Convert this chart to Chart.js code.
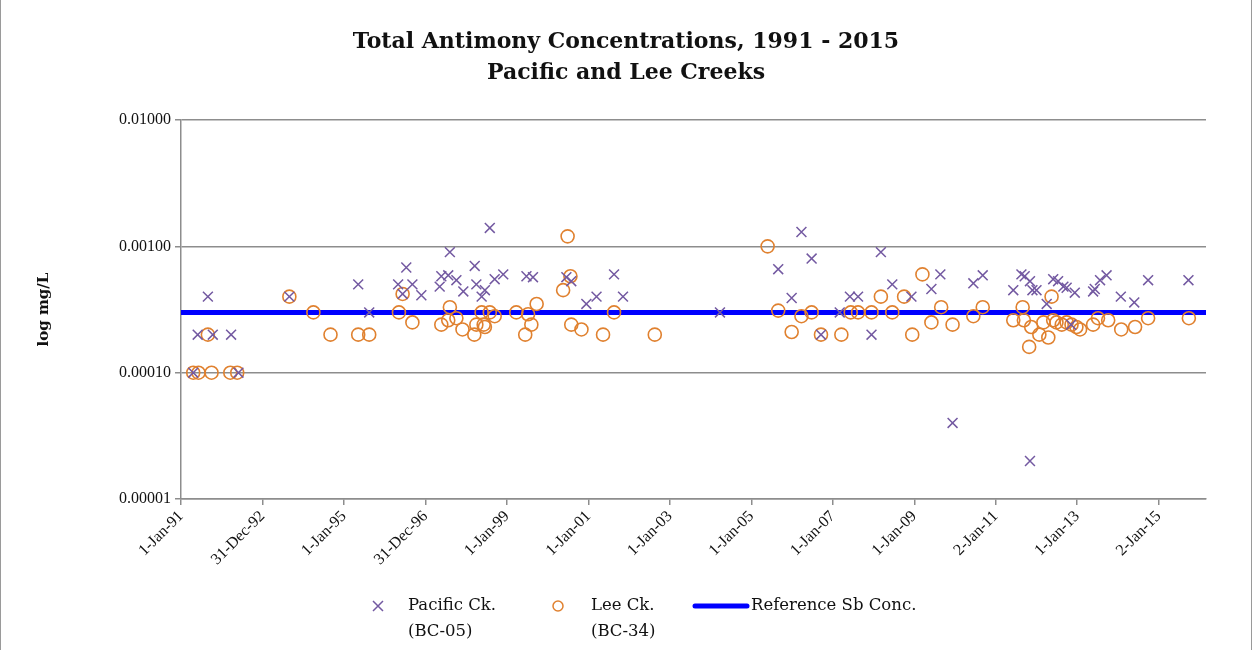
<!DOCTYPE html>
<html lang="en">
<head>
<meta charset="UTF-8">
<title>Total Antimony Concentrations</title>
<style>
    body { margin: 0; background: #fff; }
    #wrap { position: relative; width: 1252px; height: 650px; box-sizing: border-box; border-left: 1px solid #9a9a9a; border-right: 1px solid #9a9a9a; }
</style>
</head>
<body>
<div id="wrap"><canvas id="sbChart" width="1250" height="650"></canvas></div>
<script src="https://cdn.jsdelivr.net/npm/chart.js"></script>
<script>
// sample dates as decimal years, values in mg/L
const pacificYear = [1991.30, 1991.41, 1991.66, 1991.78, 1992.23, 1992.41, 1993.66, 1995.35, 1995.62, 1996.33,
    1996.44, 1996.53, 1996.68, 1996.90, 1997.35, 1997.39, 1997.56, 1997.60, 1997.76, 1997.93,
    1998.21, 1998.25, 1998.38, 1998.46, 1998.58, 1998.70, 1998.91, 1999.48, 1999.64, 2000.46,
    2000.58, 2000.95, 2001.20, 2001.63, 2001.85, 2004.23, 2005.66, 2005.99, 2006.23, 2006.48,
    2006.71, 2007.17, 2007.42, 2007.62, 2007.95, 2008.18, 2008.46, 2008.93, 2009.42, 2009.64,
    2009.94, 2010.45, 2010.68, 2011.43, 2011.63, 2011.71, 2011.84, 2011.84, 2011.90, 2012.00,
    2012.25, 2012.41, 2012.53, 2012.66, 2012.74, 2012.85, 2012.94, 2013.39, 2013.43, 2013.56,
    2013.72, 2014.07, 2014.40, 2014.74, 2015.73];
const pacificSb = [0.0001, 0.0002, 0.0004, 0.0002, 0.0002, 0.0001, 0.0004, 0.0005, 0.0003, 0.0005,
    0.00042, 0.00068, 0.0005, 0.00041, 0.00048, 0.00058, 0.00059, 0.0009, 0.00054, 0.00044,
    0.0007, 0.0005, 0.0004, 0.00045, 0.0014, 0.00055, 0.0006, 0.00058, 0.00057, 0.00057,
    0.00053, 0.00035, 0.0004, 0.0006, 0.0004, 0.0003, 0.00066, 0.00039, 0.0013, 0.0008,
    0.0002, 0.0003, 0.0004, 0.0004, 0.0002, 0.0009, 0.0005, 0.0004, 0.00046, 0.0006,
    0.00004, 0.00051, 0.00059, 0.00045, 0.0006, 0.00058, 0.00053, 0.00002, 0.00045, 0.00045,
    0.00035, 0.00055, 0.00053, 0.00048, 0.00047, 0.00024, 0.00043, 0.00044, 0.00046, 0.00054,
    0.00059, 0.0004, 0.00036, 0.00054, 0.00054];

const leeYear = [1991.30, 1991.43, 1991.66, 1991.75, 1992.21, 1992.38, 1993.66, 1994.25, 1994.67, 1995.35,
    1995.62, 1996.35, 1996.44, 1996.68, 1997.39, 1997.56, 1997.60, 1997.76, 1997.91, 1998.20,
    1998.25, 1998.38, 1998.43, 1998.46, 1998.58, 1998.70, 1999.23, 1999.45, 1999.52, 1999.60,
    1999.73, 2000.38, 2000.49, 2000.56, 2000.58, 2000.83, 2001.36, 2001.63, 2002.63, 2005.40,
    2005.66, 2005.99, 2006.23, 2006.48, 2006.71, 2007.21, 2007.44, 2007.62, 2007.95, 2008.18,
    2008.46, 2008.75, 2008.95, 2009.20, 2009.42, 2009.66, 2009.94, 2010.45, 2010.68, 2011.43,
    2011.66, 2011.69, 2011.82, 2011.87, 2012.07, 2012.17, 2012.29, 2012.37, 2012.41, 2012.49,
    2012.62, 2012.74, 2012.86, 2012.98, 2013.07, 2013.39, 2013.51, 2013.76, 2014.08, 2014.42,
    2014.74, 2015.74];
const leeSb = [0.0001, 0.0001, 0.0002, 0.0001, 0.0001, 0.0001, 0.0004, 0.0003, 0.0002, 0.0002,
    0.0002, 0.0003, 0.00042, 0.00025, 0.00024, 0.00026, 0.00033, 0.00027, 0.00022, 0.0002,
    0.00024, 0.0003, 0.00024, 0.00023, 0.0003, 0.00028, 0.0003, 0.0002, 0.00029, 0.00024,
    0.00035, 0.00045, 0.0012, 0.00058, 0.00024, 0.00022, 0.0002, 0.0003, 0.0002, 0.001,
    0.00031, 0.00021, 0.00028, 0.0003, 0.0002, 0.0002, 0.0003, 0.0003, 0.0003, 0.0004,
    0.0003, 0.0004, 0.0002, 0.0006, 0.00025, 0.00033, 0.00024, 0.00028, 0.00033, 0.00026,
    0.00033, 0.00026, 0.00016, 0.00023, 0.0002, 0.00025, 0.00019, 0.0004, 0.00026, 0.00025,
    0.00024, 0.00025, 0.00024, 0.00023, 0.00022, 0.00024, 0.00027, 0.00026, 0.00022, 0.00023,
    0.00027, 0.00027];

const refSb = 0.0003;

const xTickLabels = ['1-Jan-91', '31-Dec-92', '1-Jan-95', '31-Dec-96', '1-Jan-99', '1-Jan-01', '1-Jan-03',
    '1-Jan-05', '1-Jan-07', '1-Jan-09', '2-Jan-11', '1-Jan-13', '2-Jan-15'];
const yTicks = [0.00001, 0.0001, 0.001, 0.01];

// x axis is days since 1-Jan-91
const xTickStep = 730.5;
const xMax = 9190;
const toDays = yr => (yr - 1991) * 365.25;

const purple = '#7359a1';
const orange = '#e0812f';
const gridGray = '#8d8d8d';
const serif = "'Liberation Serif', serif";
const wideSerif = "'DejaVu Serif', serif";

const legendPlugin = {
    id: 'bottomLegend',
    afterDraw(chart) {
        const ctx = chart.ctx;
        ctx.save();
        // x marker
        ctx.strokeStyle = purple;
        ctx.lineWidth = 1.5;
        ctx.beginPath();
        ctx.moveTo(372, 601); ctx.lineTo(382, 611);
        ctx.moveTo(382, 601); ctx.lineTo(372, 611);
        ctx.stroke();
        // circle marker
        ctx.strokeStyle = orange;
        ctx.beginPath();
        ctx.arc(557, 606, 5, 0, Math.PI * 2);
        ctx.stroke();
        // reference line
        ctx.strokeStyle = '#0000ff';
        ctx.lineWidth = 5;
        ctx.lineCap = 'round';
        ctx.beginPath();
        ctx.moveTo(694, 606); ctx.lineTo(746, 606);
        ctx.stroke();

        ctx.fillStyle = '#111';
        ctx.font = "16.5px " + wideSerif;
        ctx.textBaseline = 'middle';
        ctx.fillText('Pacific Ck.', 407, 606);
        ctx.fillText('(BC-05)', 407, 632);
        ctx.fillText('Lee Ck.', 590, 606);
        ctx.fillText('(BC-34)', 590, 632);
        ctx.fillText('Reference Sb Conc.', 750, 606);
        ctx.restore();
    }
};

const ctx = document.getElementById('sbChart').getContext('2d');
const sbChart = new Chart(ctx, {
    type: 'scatter',
    data: {
        datasets: [{
            label: 'Pacific Ck. (BC-05)',
            data: pacificYear.map((yr, i) => ({ x: toDays(yr), y: pacificSb[i] })),
            pointStyle: 'crossRot',
            pointRadius: 7,
            borderColor: purple,
            borderWidth: 1.5,
            backgroundColor: purple
        }, {
            label: 'Lee Ck. (BC-34)',
            data: leeYear.map((yr, i) => ({ x: toDays(yr), y: leeSb[i] })),
            pointStyle: 'circle',
            pointRadius: 6.5,
            borderColor: orange,
            borderWidth: 1.6,
            backgroundColor: 'rgba(0,0,0,0)'
        }, {
            type: 'line',
            label: 'Reference Sb Conc.',
            data: [{ x: 0, y: refSb }, { x: xMax, y: refSb }],
            borderColor: '#0000ff',
            borderWidth: 5,
            pointRadius: 0
        }]
    },
    options: {
        responsive: false,
        animation: false,
        layout: { padding: 0 },
        plugins: {
            legend: { display: false },
            tooltip: { enabled: false },
            title: {
                display: true,
                text: ['Total Antimony Concentrations, 1991 - 2015', 'Pacific and Lee Creeks'],
                color: '#111',
                font: { family: wideSerif, size: 22, weight: 'bold', lineHeight: 1.41 },
                padding: { top: 27, bottom: 31 }
            }
        },
        scales: {
            x: {
                type: 'linear',
                min: 0,
                max: xMax,
                afterBuildTicks: s => { s.ticks = xTickLabels.map((l, i) => ({ value: i * xTickStep })); },
                afterFit: s => { s.height = 151; },
                grid: { drawOnChartArea: false, drawTicks: true, tickLength: 6, color: gridGray, lineWidth: 1.5 },
                border: { color: gridGray, width: 1.5 },
                ticks: {
                    autoSkip: false,
                    minRotation: 45,
                    maxRotation: 45,
                    padding: 2,
                    color: '#111',
                    font: { family: serif, size: 16 },
                    callback: (v, i) => xTickLabels[i]
                }
            },
            y: {
                type: 'logarithmic',
                min: 0.00001,
                max: 0.01,
                afterBuildTicks: s => { s.ticks = yTicks.map(v => ({ value: v })); },
                afterFit: s => { s.width = 180; },
                grid: { color: gridGray, lineWidth: 1.5, tickLength: 6 },
                border: { color: gridGray, width: 1.5 },
                ticks: {
                    padding: 4,
                    color: '#111',
                    font: { family: serif, size: 16 },
                    callback: v => v.toFixed(5)
                },
                title: {
                    display: true,
                    text: 'log mg/L',
                    color: '#111',
                    font: { family: wideSerif, size: 15, weight: 'bold' },
                    padding: { top: 34, bottom: 0 }
                }
            },
            // empty right margin so the title centres on the whole canvas
            yRight: {
                position: 'right',
                grid: { display: false },
                border: { display: false },
                ticks: { display: false },
                afterFit: s => { s.width = 45; }
            }
        }
    },
    plugins: [legendPlugin]
});
</script>
</body>
</html>
